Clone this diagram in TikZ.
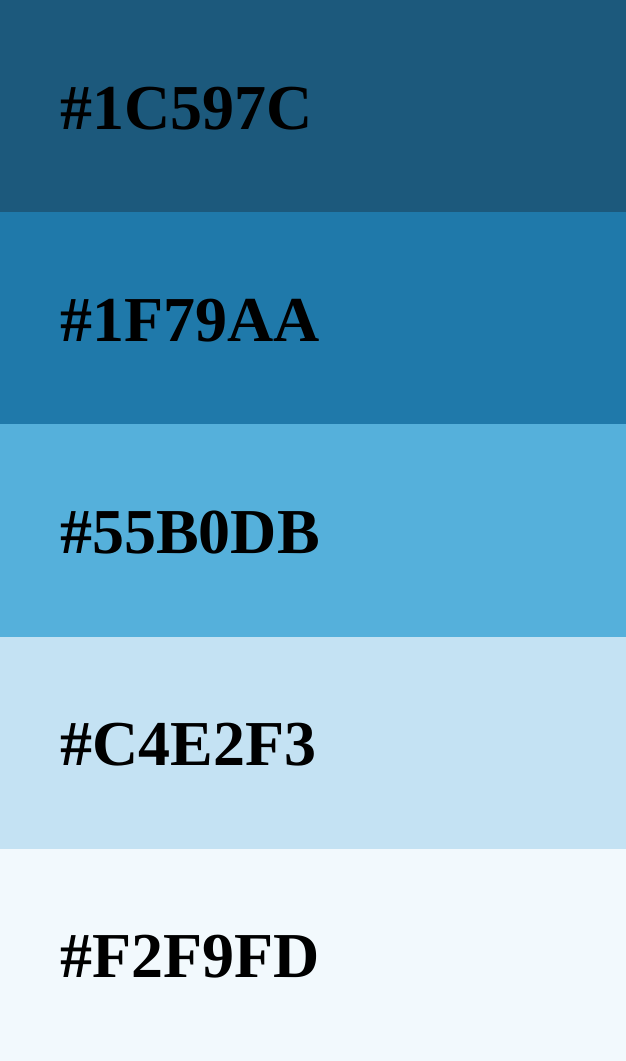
\documentclass[tikz,border=0pt]{standalone}
\usepackage{fontspec}
\setmainfont{Liberation Serif}
\definecolor{shadeA}{HTML}{1C597C}
\definecolor{shadeB}{HTML}{1F79AA}
\definecolor{shadeC}{HTML}{55B0DB}
\definecolor{shadeD}{HTML}{C4E2F3}
\definecolor{shadeE}{HTML}{F2F9FD}
\tikzset{
	band/.style={fill=#1, draw=none},
	code/.style={anchor=base west, inner sep=0pt, font=\fontsize{64}{64}\selectfont\bfseries, text=black}
}
\begin{document}
\begin{tikzpicture}[x=1pt, y=-1pt]
			\useasboundingbox (0,0) rectangle (626,1061);

			\fill[band=shadeA] (0,0) rectangle (626,212.2);
			\fill[band=shadeB] (0,212.2) rectangle (626,424.4);
			\fill[band=shadeC] (0,424.4) rectangle (626,636.6);
			\fill[band=shadeD] (0,636.6) rectangle (626,848.8);
			\fill[band=shadeE] (0,848.8) rectangle (626,1061);

			\node (a)[code] at (60,129) {\#1C597C};
			\node (b)[code] at (60,341) {\#1F79AA};
			\node (c)[code] at (60,553) {\#55B0DB};
			\node (d)[code] at (60,765) {\#C4E2F3};
			\node (e)[code] at (60,977) {\#F2F9FD};
		\end{tikzpicture}
\end{document}
